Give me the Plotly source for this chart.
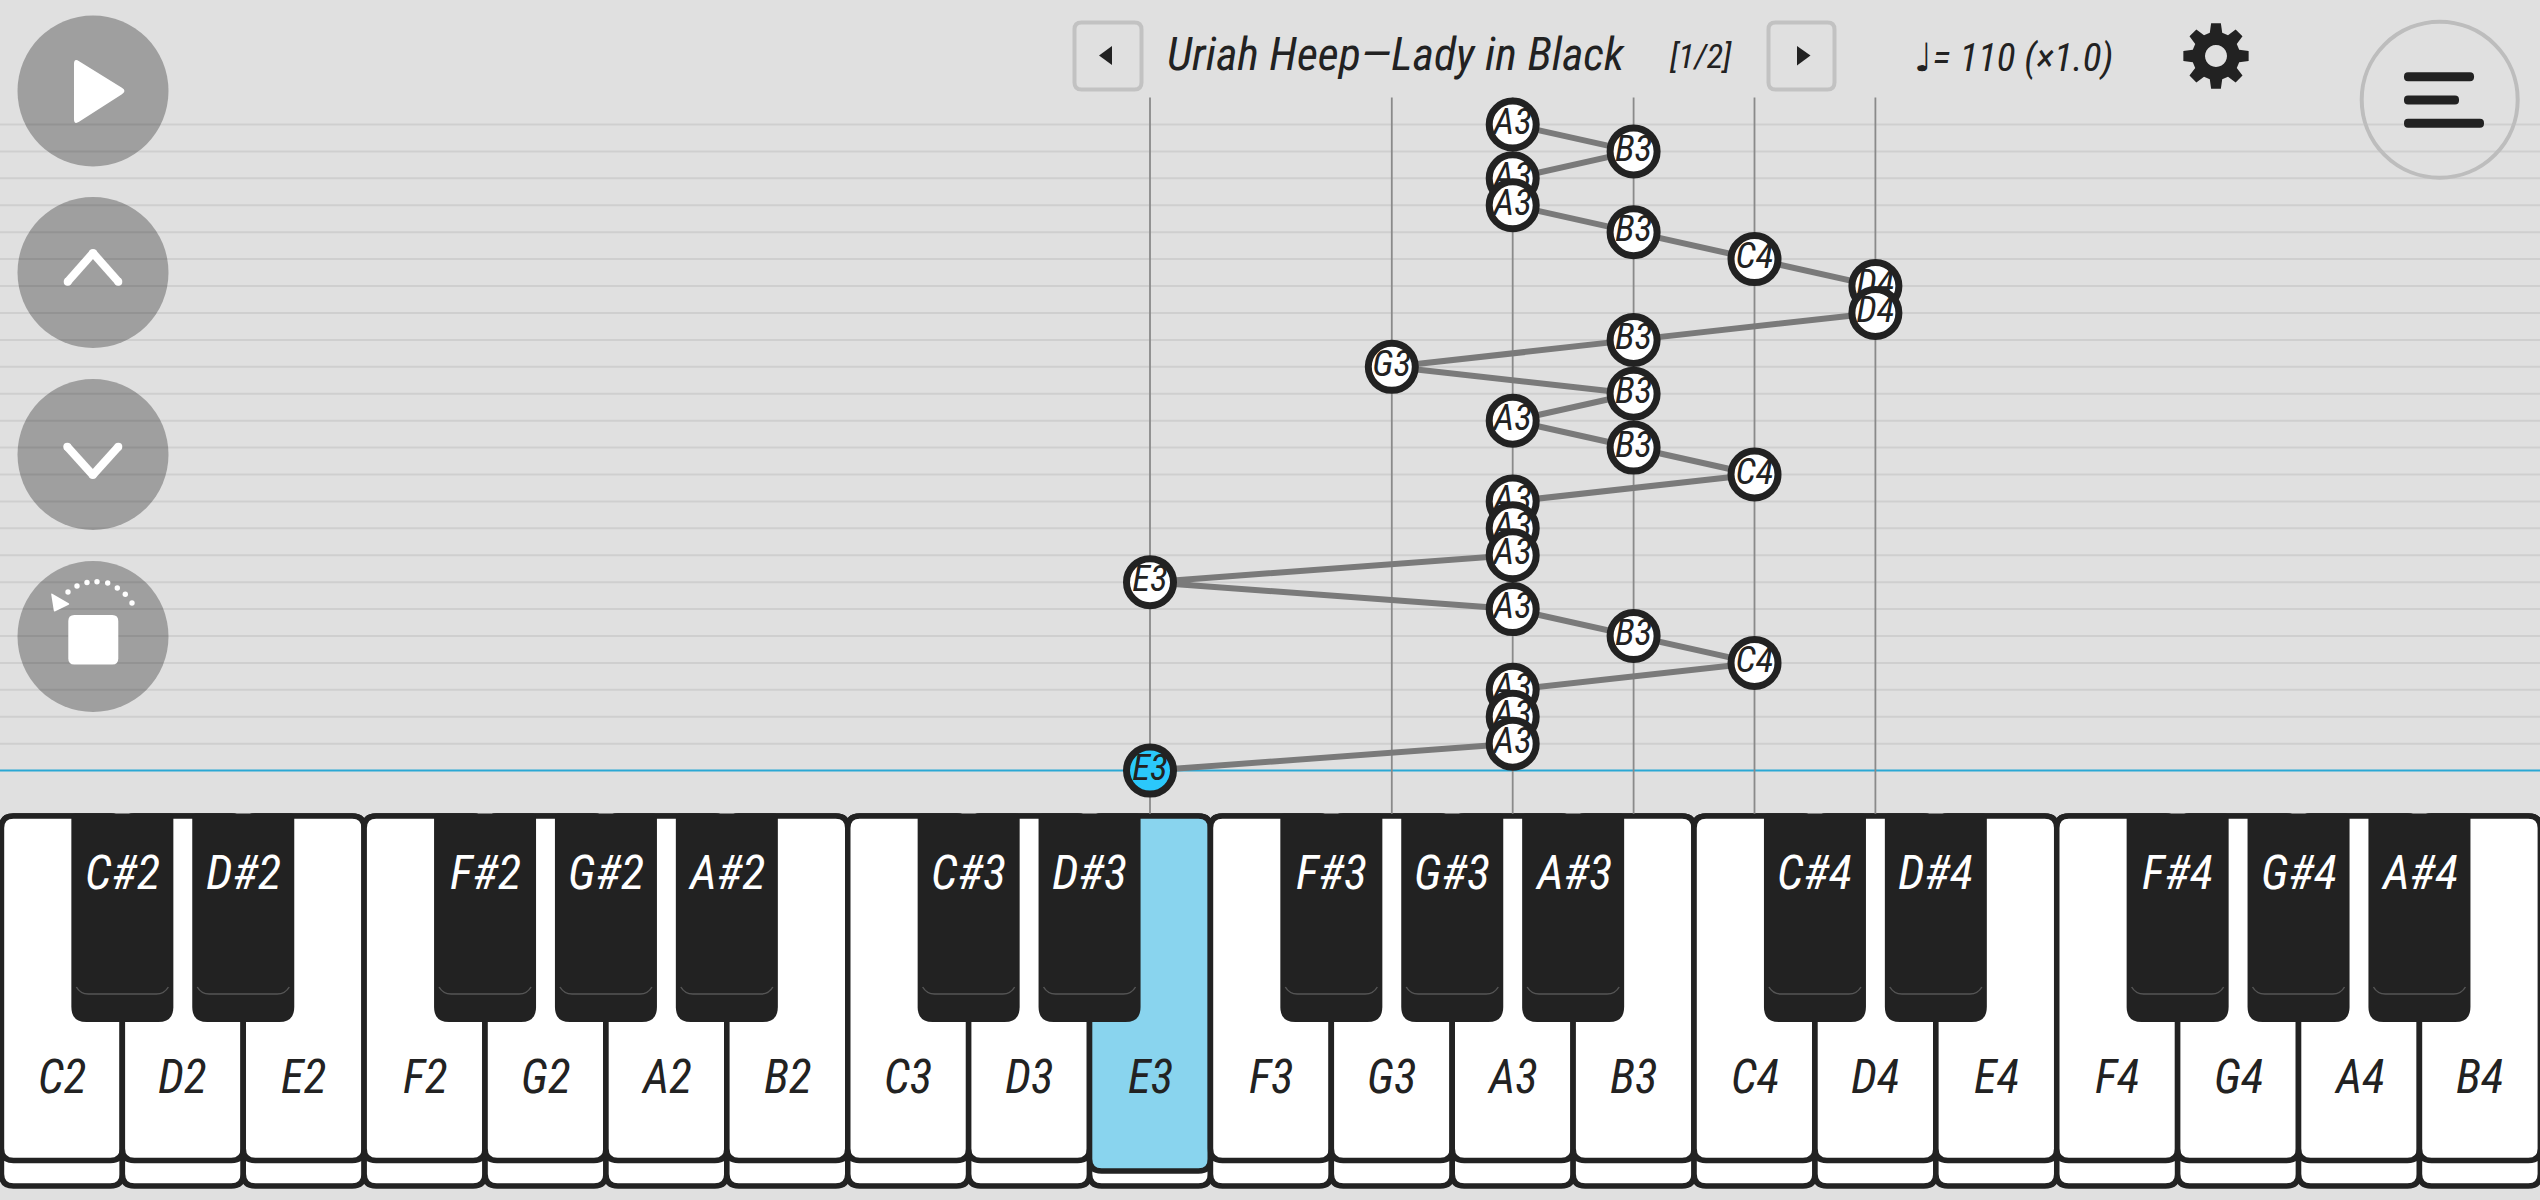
import math
import plotly.graph_objects as go

W, H = 2540, 1200

# song, read from the bottom of the roll upwards
NOTES = ["E3", "A3", "A3", "A3", "C4", "B3", "A3", "E3", "A3", "A3", "A3", "C4", "B3",
         "A3", "B3", "G3", "B3", "D4", "D4", "C4", "B3", "A3", "A3", "B3", "A3"]
BEATS = list(range(25))
COLUMNS = ["E3", "G3", "A3", "B3", "C4", "D4"]
WHITE_KEYS = ["C2", "D2", "E2", "F2", "G2", "A2", "B2",
              "C3", "D3", "E3", "F3", "G3", "A3", "B3",
              "C4", "D4", "E4", "F4", "G4", "A4", "B4"]
BLACK_KEYS = ["C#2", "D#2", "F#2", "G#2", "A#2",
              "C#3", "D#3", "F#3", "G#3", "A#3",
              "C#4", "D#4", "F#4", "G#4", "A#4"]
BLACK_AFTER = ["C2", "D2", "F2", "G2", "A2",
               "C3", "D3", "F3", "G3", "A3",
               "C4", "D4", "F4", "G4", "A4"]
ACTIVE_KEY = "E3"
TITLE = "Uriah Heep—Lady in Black"
PAGE = "[1/2]"
TEMPO = '<span style="font-family:DejaVu Sans">♩</span>= 110 (×1.0)'

BG = "#e0e0e0"
INK = "#222222"
FONT = "Roboto Condensed, Roboto, sans-serif"

KEY_W = 120.9
KEY_X0 = 61.9
BEAT_H = 26.92
BEAT_Y0 = 770.6

x_range = [-KEY_X0 / KEY_W, (W - KEY_X0) / KEY_W]
y_range = [-(H - BEAT_Y0) / BEAT_H, BEAT_Y0 / BEAT_H]


def px(x):
    return x / W


def py(y):
    return 1 - y / H


def pt(x, y):
    return f"{px(x):.5f},{py(y):.5f}"


def rrect(x0, y0, x1, y1, r_top=8, r_bot=8):
    return (f"M {pt(x0 + r_top, y0)} L {pt(x1 - r_top, y0)} Q {pt(x1, y0)} {pt(x1, y0 + r_top)} "
            f"L {pt(x1, y1 - r_bot)} Q {pt(x1, y1)} {pt(x1 - r_bot, y1)} "
            f"L {pt(x0 + r_bot, y1)} Q {pt(x0, y1)} {pt(x0, y1 - r_bot)} "
            f"L {pt(x0, y0 + r_top)} Q {pt(x0, y0)} {pt(x0 + r_top, y0)} Z")


def rpoly(points, r):
    # polygon with the corners cut by a small curve
    n = len(points)
    d = ""
    for i in range(n):
        x, y = points[i]
        xa, ya = points[i - 1]
        xb, yb = points[(i + 1) % n]
        la = math.hypot(xa - x, ya - y)
        lb = math.hypot(xb - x, yb - y)
        a = (x + (xa - x) * r / la, y + (ya - y) * r / la)
        b = (x + (xb - x) * r / lb, y + (yb - y) * r / lb)
        d += ("M " if i == 0 else "L ") + pt(*a) + " Q " + pt(x, y) + " " + pt(*b) + " "
    return d + "Z"


shapes = []


def path(d, fill=None, color=None, width=0):
    shapes.append(dict(type="path", path=d, xref="paper", yref="paper", layer="below",
                       fillcolor=fill or "rgba(0,0,0,0)",
                       line=dict(color=color or "rgba(0,0,0,0)", width=width)))


def circle(cx, cy, r, fill=None, color=None, width=0):
    shapes.append(dict(type="circle", xref="paper", yref="paper", layer="below",
                       x0=px(cx - r), x1=px(cx + r), y0=py(cy + r), y1=py(cy - r),
                       fillcolor=fill or "rgba(0,0,0,0)",
                       line=dict(color=color or "rgba(0,0,0,0)", width=width)))


# staff lines and the columns of the notes in use
for b in range(1, 25):
    shapes.append(dict(type="line", xref="paper", yref="y", layer="below", x0=0, x1=1, y0=b, y1=b,
                       line=dict(color="#cfcfcf", width=2)))
shapes.append(dict(type="line", xref="paper", yref="y", layer="below", x0=0, x1=1, y0=0, y1=0,
                   line=dict(color="#2aa8d4", width=2)))
for name in COLUMNS:
    i = WHITE_KEYS.index(name)
    shapes.append(dict(type="line", xref="x", yref="y", layer="below", x0=i, x1=i, y0=-1.6, y1=25,
                       line=dict(color="#8a8a8a", width=1.8)))

# keyboard
TOP, BODY, BODY_ACTIVE, BASE = 816, 1160.5, 1171, 1186
for i, name in enumerate(WHITE_KEYS):
    c = KEY_X0 + KEY_W * i
    x0, x1 = c - KEY_W / 2, c + KEY_W / 2
    path(rrect(x0, TOP, x1, BASE, 12, 12), "#ffffff", INK, 5.5)
    active = name == ACTIVE_KEY
    path(rrect(x0, TOP, x1, BODY_ACTIVE if active else BODY, 12, 12),
         "#89d4ee" if active else "#ffffff", INK, 5.5)
for after in BLACK_AFTER:
    c = KEY_X0 + KEY_W * (WHITE_KEYS.index(after) + 0.5)
    path(rrect(c - 51, 813.5, c + 51, 1022, 4, 15), INK)
    path(f"M {pt(c - 46, 987)} Q {pt(c - 42, 994)} {pt(c - 34, 994)} L {pt(c + 34, 994)} "
         f"Q {pt(c + 42, 994)} {pt(c + 46, 987)}", None, "#555555", 1.5)

# round buttons on the left
BUTTON = "rgba(0,0,0,0.29)"
for cy in (91, 272.5, 454.5, 636.5):
    circle(93, cy, 75.5, BUTTON)
path(rpoly([(74, 58), (127, 91), (74, 125)], 6), "#ffffff")
for pts in ([(67.7, 281.7), (93, 253), (118.3, 281.7)], [(67.3, 446.7), (92.8, 475), (118.3, 446.7)]):
    for (xa, ya), (xb, yb) in zip(pts, pts[1:]):
        path(f"M {pt(xa, ya)} L {pt(xb, yb)}", None, "#ffffff", 8)
    for x, y in pts:
        circle(x, y, 4, "#ffffff")
path(rrect(68.3, 615, 118.3, 664.6, 6, 6), "#ffffff")
path(rpoly([(51, 593), (70, 604), (54, 612)], 1.5), "#ffffff")
for x, y in [(68, 592), (77, 586), (87, 582.5), (97, 581.7), (107.7, 583), (117.3, 588), (125.3, 594.3), (132, 603)]:
    circle(x, y, 2.7, "#ffffff")

# header buttons
path(rrect(1074.5, 22.5, 1141.5, 89.5, 7, 7), BG, "#c2c2c2", 4)
path(f"M {pt(1112, 46)} L {pt(1099, 55.5)} L {pt(1112, 65)} Z", INK)
path(rrect(1768.5, 22.5, 1834.5, 89.5, 7, 7), BG, "#c2c2c2", 4)
path(f"M {pt(1797, 46)} L {pt(1810.5, 55.5)} L {pt(1797, 65.5)} Z", INK)

# gear
gear = []
for k in range(8):
    a = math.radians(k * 45 - 90)
    for da, r in ((-15, 24), (-8.5, 33), (8.5, 33), (15, 24)):
        gear.append((2216 + r * math.cos(a + math.radians(da)), 56 + r * math.sin(a + math.radians(da))))
gear_d = "M " + " L ".join(pt(x, y) for x, y in gear) + " Z "
hole = [(2216 + 11 * math.cos(math.radians(t)), 56 + 11 * math.sin(math.radians(t))) for t in range(0, 360, 15)]
gear_d += "M " + " L ".join(pt(x, y) for x, y in hole) + " Z"
path(gear_d, INK)

# menu
circle(2439.7, 99.7, 78, None, "#bdbdbd", 4)
for x1, y in ((2474, 76.7), (2459, 100), (2484, 123.3)):
    path(rrect(2404, y - 4.5, x1, y + 4.5, 4, 4), INK)

fig = go.Figure()

xs = [WHITE_KEYS.index(n) for n in NOTES]
fig.add_trace(go.Scatter(x=xs, y=BEATS, mode="lines", line=dict(color="#7a7a7a", width=6), hoverinfo="skip"))
# one trace per note, the later notes first, so the nearer ones cover them
for x, b, n in reversed(list(zip(xs, BEATS, NOTES))):
    fig.add_trace(go.Scatter(
        x=[x], y=[b], mode="markers+text", text=[n], textposition="middle center",
        textfont=dict(family=FONT, size=37, color=INK, style="italic"),
        marker=dict(size=47, color="#2bc8fb" if b == 0 else "#ffffff", line=dict(color=INK, width=7)),
        hoverinfo="skip"))

annotations = []


def label(text, x, y, size, color=INK, xref="paper"):
    annotations.append(dict(text=text, x=x, y=py(y), xref=xref, yref="paper", showarrow=False,
                            xanchor="center", yanchor="middle",
                            font=dict(family=FONT, size=size, color=color, style="italic")))


for i, name in enumerate(WHITE_KEYS):
    label(name, i, 1076, 47, xref="x")
for name, after in zip(BLACK_KEYS, BLACK_AFTER):
    label(name, WHITE_KEYS.index(after) + 0.5, 872, 48, "#ffffff", xref="x")
label(TITLE, px(1396), 54, 46)
label(PAGE, px(1700), 56, 34)
label(TEMPO, px(2013), 58, 39)

fig.update_layout(
    width=W, height=H, autosize=False, margin=dict(l=0, r=0, t=0, b=0, pad=0),
    paper_bgcolor=BG, plot_bgcolor=BG, showlegend=False, hovermode=False,
    xaxis=dict(visible=False, range=x_range, fixedrange=True),
    yaxis=dict(visible=False, range=y_range, fixedrange=True),
    shapes=shapes, annotations=annotations,
)

fig.write_html("out.html", config={"displayModeBar": False}, post_script="document.body.style.margin='0';")
